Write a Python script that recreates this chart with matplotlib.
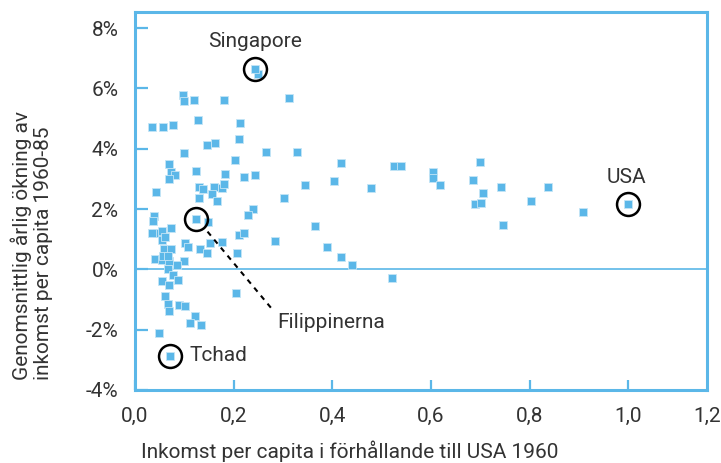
import numpy as np
import matplotlib
matplotlib.use("Agg")
import matplotlib.pyplot as plt

plt.rcParams['font.family'] = ['Roboto', 'DejaVu Sans']

BLUE = "#5BB7E8"
TXT = "#333333"
FS = 15

# --- data: income rel. to USA 1960 (x) vs avg annual growth 1960-85 in % (y) ---
x_vals = [0.098, 0.100, 0.120, 0.180, 0.312, 0.034, 0.057, 0.076, 0.128, 0.213,
          0.145, 0.163, 0.211, 0.265, 0.329, 0.099, 0.202, 0.069, 0.072, 0.081,
          0.069, 0.123, 0.182, 0.220, 0.244, 0.345, 0.042, 0.130, 0.138, 0.160,
          0.176, 0.180, 0.130, 0.156, 0.166, 0.303, 0.239, 0.230, 0.038, 0.037,
          0.147, 0.364, 0.389, 0.044, 0.054, 0.073, 0.034, 0.055, 0.061, 0.102,
          0.108, 0.153, 0.176, 0.211, 0.220, 0.283, 0.131, 0.145, 0.207, 0.058,
          0.073, 0.041, 0.055, 0.068, 0.057, 0.067, 0.100, 0.085, 0.066, 0.076,
          0.055, 0.069, 0.087, 0.204, 0.061, 0.066, 0.068, 0.090, 0.101, 0.121,
          0.112, 0.133, 0.048, 0.418, 0.525, 0.539, 0.605, 0.605, 0.618, 0.700,
          0.686, 0.690, 0.702, 0.706, 0.743, 0.403, 0.478, 0.418, 0.441, 0.522,
          0.837, 0.803, 0.908, 0.747, 0.249]
y_vals = [5.77, 5.58, 5.63, 5.63, 5.67, 4.72, 4.72, 4.78, 4.94, 4.86,
          4.11, 4.18, 4.31, 3.90, 3.90, 3.85, 3.62, 3.48, 3.22, 3.14,
          3.01, 3.25, 3.16, 3.07, 3.14, 2.78, 2.55, 2.73, 2.65, 2.74,
          2.70, 2.82, 2.38, 2.49, 2.25, 2.38, 1.99, 1.79, 1.77, 1.60,
          1.57, 1.44, 0.75, 1.22, 1.27, 1.37, 1.19, 0.97, 1.08, 0.87,
          0.74, 0.88, 0.92, 1.14, 1.19, 0.93, 0.66, 0.55, 0.55, 0.66,
          0.69, 0.35, 0.30, 0.27, 0.44, 0.44, 0.26, 0.14, 0.02, -0.20,
          -0.39, -0.51, -0.36, -0.77, -0.88, -1.14, -1.38, -1.19, -1.22, -1.55,
          -1.79, -1.86, -2.10, 3.54, 3.41, 3.41, 3.22, 3.04, 2.78, 3.57,
          2.97, 2.15, 2.19, 2.54, 2.74, 2.94, 2.68, 0.42, 0.14, -0.29,
          2.72, 2.25, 1.89, 1.46, 6.47]

# highlighted countries
hl_names = ["Singapore", "USA", "Filippinerna", "Tchad"]
hl_x = [0.244, 1.000, 0.123, 0.071]
hl_y = [6.65, 2.18, 1.66, -2.87]

xticks = [0.0, 0.2, 0.4, 0.6, 0.8, 1.0, 1.16]
xtick_labels = ["0,0", "0,2", "0,4", "0,6", "0,8", "1,0", "1,2"]
yticks = [-4, -2, 0, 2, 4, 6, 8]
ytick_labels = ["-4%", "-2%", "0%", "2%", "4%", "6%", "8%"]

fig = plt.figure(figsize=(7.21, 4.63), dpi=100)
ax = fig.add_axes([0.1873, 0.1577, 0.9806 - 0.1873, 0.974 - 0.1577])

ax.axhline(0, color=BLUE, lw=1.2, zorder=1)
ax.plot(x_vals + hl_x, y_vals + hl_y, ls="none", marker="s", ms=6,
        mfc=BLUE, mec="#c4e5f6", mew=0.6, zorder=2)
ax.plot(hl_x, hl_y, ls="none", marker="o", ms=16.5, mfc="none",
        mec="black", mew=1.8, zorder=3)

# labels for highlighted points
ax.text(0.244, 7.55, "Singapore", ha="center", va="center", fontsize=FS, color=TXT)
ax.text(0.997, 3.05, "USA", ha="center", va="center", fontsize=FS, color=TXT)
ax.text(0.111, -2.85, "Tchad", ha="left", va="center", fontsize=FS, color=TXT)
ax.text(0.289, -1.76, "Filippinerna", ha="left", va="center", fontsize=FS, color=TXT)
ax.plot([0.147, 0.281], [1.25, -1.38], ls=(0, (2.5, 2.5)), color="black", lw=1.5, zorder=3)

ax.set_xlim(0, 1.16)
ax.set_ylim(-4, 8.53)
ax.set_xticks(xticks)
ax.set_xticklabels(xtick_labels)
ax.set_yticks(yticks)
ax.set_yticklabels(ytick_labels)

for s in ax.spines.values():
    s.set_color(BLUE)
    s.set_linewidth(2.2)
ax.tick_params(axis="x", direction="in", length=7, width=1.6, color=BLUE,
               pad=12, labelsize=FS, labelcolor=TXT)
ax.tick_params(axis="y", direction="in", length=9, width=1.6, color=BLUE,
               pad=12, labelsize=FS, labelcolor=TXT)
ax.xaxis.get_major_ticks()[-1].tick1line.set_visible(False)

fig.text(0.485, 0.025, "Inkomst per capita i förhållande till USA 1960",
         ha="center", va="center", fontsize=FS, color=TXT)
fig.text(0.044, 0.179, "Genomsnittlig årlig ökning av\ninkomst per capita 1960-85",
         rotation=90, ha="center", va="bottom", multialignment="left",
         fontsize=FS, color=TXT, linespacing=1.1)

fig.savefig("out.png", dpi=100)
